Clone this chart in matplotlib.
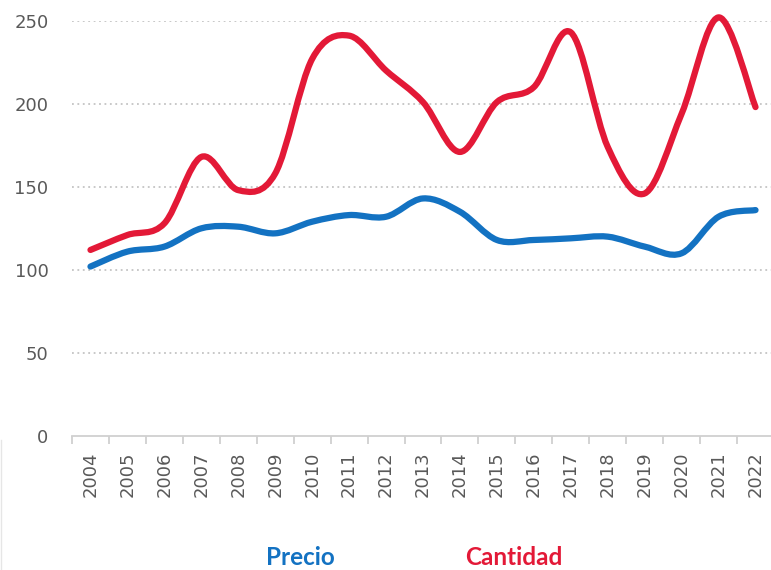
import matplotlib

matplotlib.use("Agg")
import matplotlib.pyplot as plt
import numpy as np
from matplotlib.path import Path
from matplotlib.patches import PathPatch
from matplotlib.lines import Line2D

YEARS = [str(y) for y in range(2004, 2023)]
PRECIO = [102, 111, 114, 125, 126, 122, 129, 133, 132, 143, 135, 118,
          118, 119, 120, 114, 110, 132, 136]
CANTIDAD = [112, 121, 128, 168, 148, 158, 227, 241, 220, 201, 171, 201,
            210, 243, 174, 146, 194, 252, 198]

BLUE = "#1372c2"
RED = "#e31937"
GREY_TXT = "#595959"


def smooth_path(xs, ys):
    # curva suavizada tipo Excel (Catmull-Rom -> Bezier cubica)
    pts = np.column_stack([xs, ys]).astype(float)
    n = len(pts)
    verts = [pts[0]]
    codes = [Path.MOVETO]
    for i in range(n - 1):
        p0 = pts[i - 1] if i > 0 else pts[i]
        p1 = pts[i]
        p2 = pts[i + 1]
        p3 = pts[i + 2] if i + 2 < n else pts[i + 1]
        c1 = p1 + (p2 - p0) / 6.0
        c2 = p2 - (p3 - p1) / 6.0
        verts += [c1, c2, p2]
        codes += [Path.CURVE4] * 3
    return Path(verts, codes)


fig = plt.figure(figsize=(7.71, 5.70), dpi=100)
ax = fig.add_axes([72 / 771, 1 - 436 / 570, (774 - 72) / 771, (436 - 20.7) / 570])

x = np.arange(len(YEARS))
for vals, col in [(CANTIDAD, RED), (PRECIO, BLUE)]:
    patch = PathPatch(smooth_path(x, vals), facecolor="none", edgecolor=col,
                      linewidth=4.5, capstyle="round", joinstyle="round",
                      clip_on=False)
    ax.add_patch(patch)

ax.set_xlim(-0.5, len(YEARS) - 0.5)
ax.set_ylim(0, 250)

ax.set_yticks(range(0, 251, 50))
for v in range(50, 251, 50):
    ax.axhline(v, color="#c4c4c4", linewidth=1.3, linestyle=(0, (1, 2)), zorder=0)

ax.set_xticks(x, YEARS, rotation=90)
ax.set_xticks(np.arange(-0.5, len(YEARS)), minor=True)
ax.tick_params(axis="x", which="major", length=0, pad=11, labelsize=13,
               labelcolor=GREY_TXT)
ax.tick_params(axis="x", which="minor", length=6, width=1.3, color="#d0d0d0")
ax.tick_params(axis="y", length=0, pad=17, labelsize=13, labelcolor=GREY_TXT)

for side in ["top", "right", "left"]:
    ax.spines[side].set_visible(False)
ax.spines["bottom"].set_color("#d0d0d0")
ax.spines["bottom"].set_linewidth(1.3)

fig.text(300 / 771, 1 - 569 / 570, "Precio", color=BLUE, fontsize=17.5,
         fontweight="bold", family="Lato", ha="center", va="bottom")
fig.text(514 / 771, 1 - 569 / 570, "Cantidad", color=RED, fontsize=17.5,
         fontweight="bold", family="Lato", ha="center", va="bottom")

fig.add_artist(Line2D([1 / 771, 1 / 771], [0, 1 - 440 / 570],
                      transform=fig.transFigure, color="#e6e6e6", linewidth=1))

fig.savefig("out.png", dpi=100)
